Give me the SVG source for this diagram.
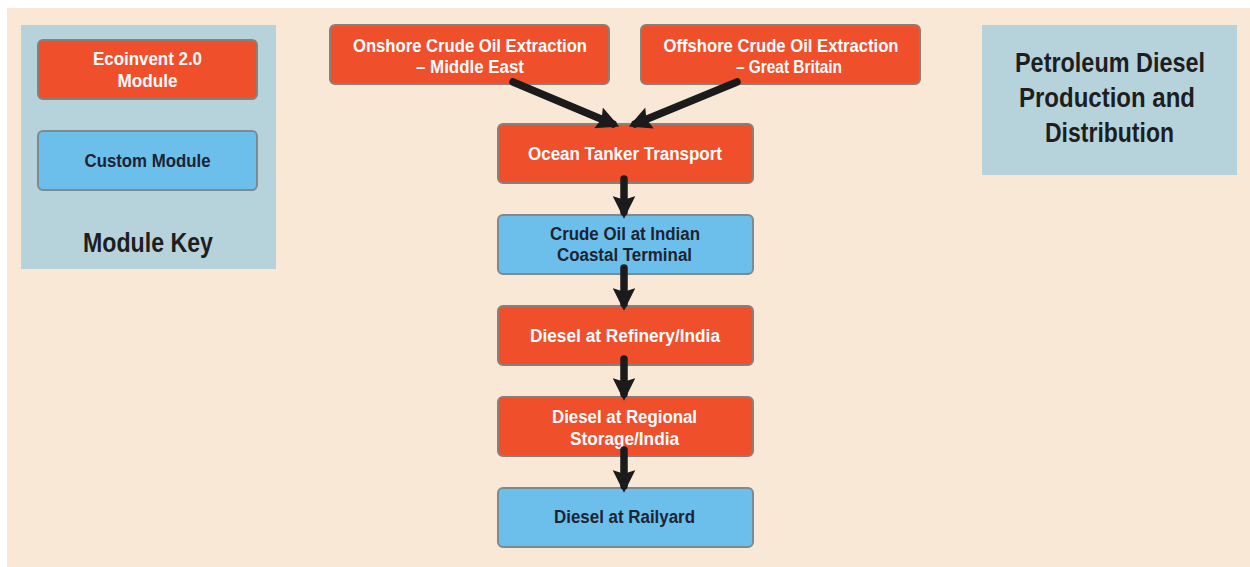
<svg xmlns="http://www.w3.org/2000/svg" width="1250" height="567" viewBox="0 0 1250 567">
<defs>
<style>
.red{fill:#f04f2c;stroke:#8c7f78;stroke-width:2}
.blue{fill:#6cbfea;stroke:#7d8a90;stroke-width:2}
.panel{fill:#b6d3dc}
text{font-family:"Liberation Sans",Arial,sans-serif;font-weight:bold;text-anchor:middle}
.wt{fill:#ffffff;font-size:18px}
.dt{fill:#1c2433;font-size:18px}
.big{fill:#1e1e1e;font-size:27px}
.conn{stroke:#1b1b1b;stroke-width:7.5;stroke-linecap:round;fill:none;marker-end:url(#ah)}
</style>
<marker id="ah" viewBox="0 0 10 10" refX="7" refY="5" markerWidth="3" markerHeight="3" orient="auto" markerUnits="strokeWidth">
<path d="M0,0 L10,5 L0,10 L1.5,5 z" fill="#1b1b1b"/>
</marker>
</defs>
<rect x="0" y="0" width="1250" height="567" fill="#ffffff"/>
<rect x="7" y="8" width="1243" height="559" fill="#f8e8d5"/>

<g id="module-key">
<rect class="panel" x="21" y="25" width="255" height="244"/>
<g id="key-ecoinvent">
<rect class="red" x="38" y="40" width="219" height="59" rx="5"/>
<text class="wt" x="147.5" y="65" textLength="109" lengthAdjust="spacingAndGlyphs">Ecoinvent 2.0</text>
<text class="wt" x="147.5" y="87" textLength="60" lengthAdjust="spacingAndGlyphs">Module</text>
</g>
<g id="key-custom">
<rect class="blue" x="38" y="131" width="219" height="59" rx="5"/>
<text class="dt" x="147.5" y="167" textLength="126" lengthAdjust="spacingAndGlyphs">Custom Module</text>
</g>
<text class="big" x="148" y="252" style="font-size:27px" textLength="130" lengthAdjust="spacingAndGlyphs">Module Key</text>
</g>

<g id="title">
<rect class="panel" x="982" y="25" width="255" height="150"/>
<text class="big" x="1110" y="72" textLength="190" lengthAdjust="spacingAndGlyphs">Petroleum Diesel</text>
<text class="big" x="1107" y="107" textLength="176" lengthAdjust="spacingAndGlyphs">Production and</text>
<text class="big" x="1109.5" y="142" textLength="129" lengthAdjust="spacingAndGlyphs">Distribution</text>
</g>

<g id="onshore">
<rect class="red" x="330" y="25" width="279" height="59" rx="5"/>
<text class="wt" x="470" y="52" textLength="234" lengthAdjust="spacingAndGlyphs">Onshore Crude Oil Extraction</text>
<text class="wt" x="470" y="73" textLength="108" lengthAdjust="spacingAndGlyphs">– Middle East</text>
</g>
<g id="offshore">
<rect class="red" x="641" y="25" width="279" height="59" rx="5"/>
<text class="wt" x="781" y="52" textLength="235" lengthAdjust="spacingAndGlyphs">Offshore Crude Oil Extraction</text>
<text class="wt" x="789" y="73" textLength="106" lengthAdjust="spacingAndGlyphs">– Great Britain</text>
</g>
<g id="ocean-tanker">
<rect class="red" x="498" y="124" width="255" height="59" rx="5"/>
<text class="wt" x="625" y="160" textLength="194" lengthAdjust="spacingAndGlyphs">Ocean Tanker Transport</text>
</g>
<g id="crude-terminal">
<rect class="blue" x="498" y="215" width="255" height="59" rx="5"/>
<text class="dt" x="625" y="240" textLength="150" lengthAdjust="spacingAndGlyphs">Crude Oil at Indian</text>
<text class="dt" x="624.5" y="261" textLength="135" lengthAdjust="spacingAndGlyphs">Coastal Terminal</text>
</g>
<g id="refinery">
<rect class="red" x="498" y="306" width="255" height="59" rx="5"/>
<text class="wt" x="625" y="342" textLength="190" lengthAdjust="spacingAndGlyphs">Diesel at Refinery/India</text>
</g>
<g id="regional-storage">
<rect class="red" x="498" y="397" width="255" height="59" rx="5"/>
<text class="wt" x="624.5" y="423" textLength="145" lengthAdjust="spacingAndGlyphs">Diesel at Regional</text>
<text class="wt" x="624.5" y="445" textLength="109" lengthAdjust="spacingAndGlyphs">Storage/India</text>
</g>
<g id="railyard">
<rect class="blue" x="498" y="488" width="255" height="59" rx="5"/>
<text class="dt" x="624.5" y="523" textLength="141" lengthAdjust="spacingAndGlyphs">Diesel at Railyard</text>
</g>

<g id="connectors">
<line class="conn" x1="513" y1="82" x2="613" y2="124"/>
<line class="conn" x1="737" y1="82" x2="635" y2="124"/>
<line class="conn" x1="624" y1="179" x2="624" y2="212"/>
<line class="conn" x1="624" y1="268" x2="624" y2="304"/>
<line class="conn" x1="624" y1="359" x2="624" y2="394"/>
<line class="conn" x1="624" y1="450" x2="624" y2="486"/>
</g>
</svg>
